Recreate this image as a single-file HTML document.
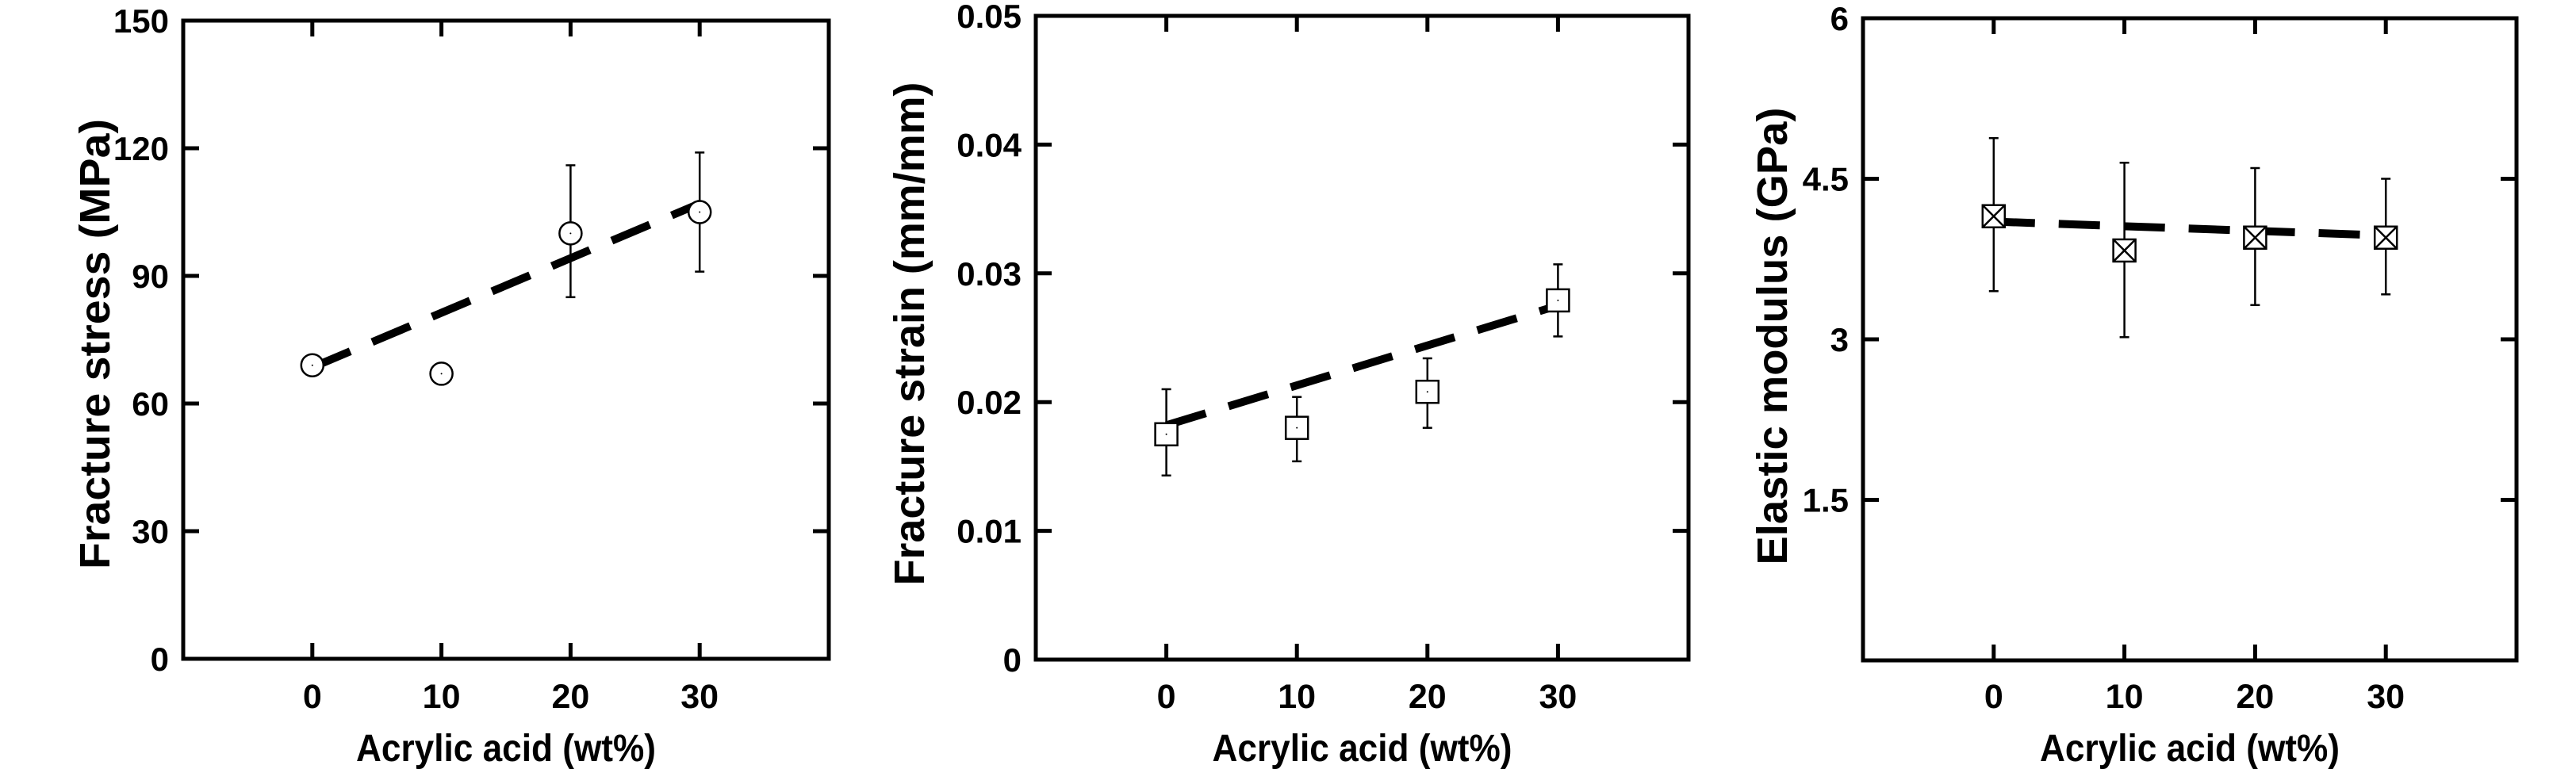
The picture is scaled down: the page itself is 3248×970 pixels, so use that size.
<!DOCTYPE html>
<html><head><meta charset="utf-8"><style>
html,body{margin:0;padding:0;background:#fff;}
svg{display:block;font-family:"Liberation Sans",Arial,sans-serif;font-weight:bold;}
</style></head><body>
<svg id="fig" width="3248" height="970" viewBox="0 0 3248 970" xmlns="http://www.w3.org/2000/svg"></svg>
<script>
const categories = [0, 10, 20, 30];
const xTicks = [0, 10, 20, 30];
const stressValues = [69, 67, 100, 105];
const stressErrLo = [69, 67, 85, 91];
const stressErrHi = [69, 67, 116, 119];
const stressFit = [68.5, 107];
const stressTicks = ["0","30","60","90","120","150"];
const strainValues = [0.0175, 0.018, 0.0208, 0.0279];
const strainErrLo = [0.0143, 0.0154, 0.018, 0.0251];
const strainErrHi = [0.021, 0.0204, 0.0234, 0.0307];
const strainFit = [0.0182, 0.0275];
const strainTicks = ["0","0.01","0.02","0.03","0.04","0.05"];
const modulusValues = [4.15, 3.83, 3.95, 3.95];
const modulusErrLo = [3.45, 3.02, 3.32, 3.42];
const modulusErrHi = [4.88, 4.65, 4.6, 4.5];
const modulusFit = [4.1, 3.97];
const modulusTicks = ["1.5","3","4.5","6"];

const NS = "http://www.w3.org/2000/svg";
const svg = document.getElementById('fig');
function mk(tag, attrs, parent){const e=document.createElementNS(NS,tag);for(const k in attrs)e.setAttribute(k,attrs[k]);(parent||svg).appendChild(e);return e;}

const panels = [
 {id:'stress', L:231,R:1045,T:26,B:831, ymax:150, ticks:stressTicks, vals:stressValues, lo:stressErrLo, hi:stressErrHi, fit:stressFit, marker:'circle', title:'Fracture stress (MPa)', tx:119, cy:434, tlen:568},
 {id:'strain', L:1306,R:2129,T:20,B:832, ymax:0.05, ticks:strainTicks, vals:strainValues, lo:strainErrLo, hi:strainErrHi, fit:strainFit, marker:'square', title:'Fracture strain (mm/mm)', tx:1146, cy:421, tlen:635},
 {id:'modulus', L:2349,R:3173,T:23,B:833, ymax:6, ticks:modulusTicks, vals:modulusValues, lo:modulusErrLo, hi:modulusErrHi, fit:modulusFit, marker:'xsquare', title:'Elastic modulus (GPa)', tx:2234, cy:424, tlen:577}
];

panels.forEach(p=>{
  const g = mk('g',{});
  
  
  const xs = v => p.L + (v + 10) / 50 * (p.R - p.L);
  const ys = v => p.B - v / p.ymax * (p.B - p.T);
  xTicks.forEach(t=>{
    const x = xs(t);
    const a = mk('line',{x1:x,x2:x,y1:p.B,y2:p.B-20,stroke:'#000','stroke-width':5},g);
     
    const b = mk('line',{x1:x,x2:x,y1:p.T,y2:p.T+20,stroke:'#000','stroke-width':5},g);
     
    const tl = mk('text',{x:x,y:893,'text-anchor':'middle','font-size':43},g);
    tl.textContent = t;
     
  });
  p.ticks.forEach(t=>{
    const v = parseFloat(t), y = ys(v);
    const a = mk('line',{x1:p.L,x2:p.L+20,y1:y,y2:y,stroke:'#000','stroke-width':5},g);
     
    const b = mk('line',{x1:p.R,x2:p.R-20,y1:y,y2:y,stroke:'#000','stroke-width':5},g);
     
    const tl = mk('text',{x:p.L-18,y:y+15,'text-anchor':'end','font-size':42},g);
    tl.textContent = t;
     
  });
  const frame = mk('rect',{x:p.L,y:p.T,width:p.R-p.L,height:p.B-p.T,fill:'none',stroke:'#000','stroke-width':5},g);
   
  categories.forEach((c,i)=>{
    const x = xs(c);
    if (p.hi[i] !== p.lo[i]) {
      const eg = mk('g',{stroke:'#000','stroke-width':2.5},g);
       
      mk('line',{x1:x,x2:x,y1:ys(p.lo[i]),y2:ys(p.hi[i])},eg);
      mk('line',{x1:x-6,x2:x+6,y1:ys(p.lo[i]),y2:ys(p.lo[i])},eg);
      mk('line',{x1:x-6,x2:x+6,y1:ys(p.hi[i]),y2:ys(p.hi[i])},eg);
    }
  });
  const fl = mk('line',{x1:xs(categories[0]),y1:ys(p.fit[0]),x2:xs(categories[3]),y2:ys(p.fit[1]),stroke:'#000','stroke-width':10,'stroke-dasharray':'52 30'},g);
   
  categories.forEach((c,i)=>{
    const x = xs(c), y = ys(p.vals[i]);
    const mg = mk('g',{stroke:'#000','stroke-width':2.5,fill:'#fff'},g);
     
    if (p.marker==='circle') {
      mk('circle',{cx:x,cy:y,r:14},mg);
    } else {
      mk('rect',{x:x-14,y:y-14,width:28,height:28},mg);
      if (p.marker==='xsquare') {
        mk('line',{x1:x-14,y1:y-14,x2:x+14,y2:y+14},mg);
        mk('line',{x1:x-14,y1:y+14,x2:x+14,y2:y-14},mg);
      }
    }
    mk('circle',{cx:x,cy:y,r:1,fill:'#000',stroke:'none'},mg);
  });
  const xt = mk('text',{x:(xs(0)+xs(30))/2,y:960,'text-anchor':'middle','font-size':48,textLength:378,lengthAdjust:'spacingAndGlyphs'},g);
  xt.textContent = 'Acrylic acid (wt%)';
   
  const yt = mk('text',{x:0,y:0,'text-anchor':'middle','font-size':54,transform:`translate(${p.tx+19},${p.cy}) rotate(-90)`,textLength:p.tlen,lengthAdjust:'spacingAndGlyphs'},g);
  yt.textContent = p.title;
   
});
</script>
</body></html>
